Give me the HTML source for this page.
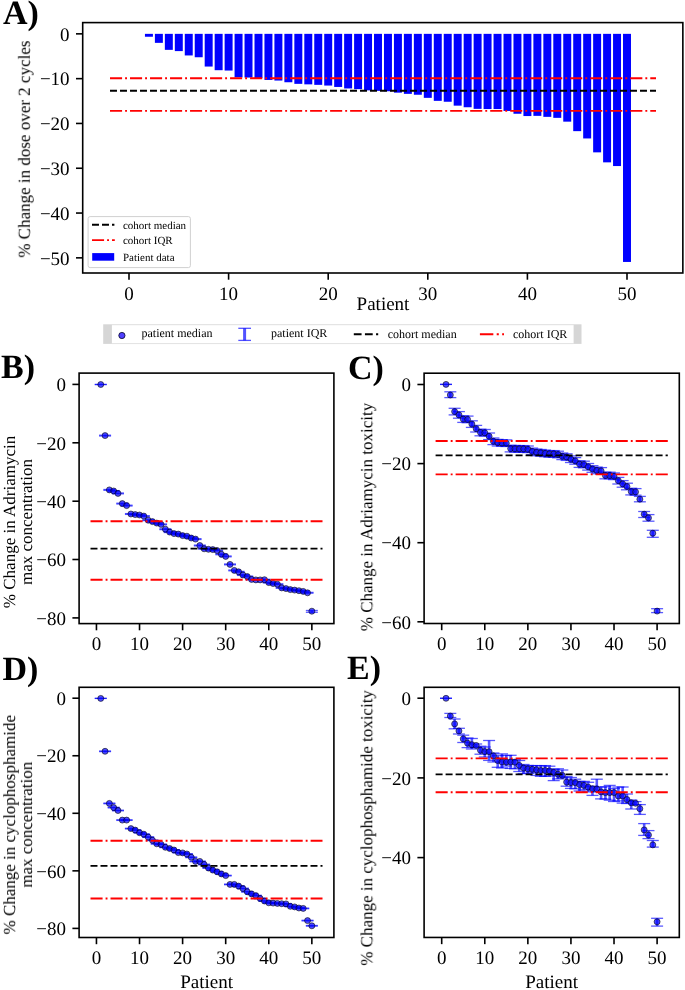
<!DOCTYPE html><html><head><meta charset="utf-8"><style>html,body{margin:0;padding:0;background:#fff;}svg{display:block}text{filter:url(#gs);text-rendering:geometricPrecision}</style></head><body>
<svg width="685" height="990" viewBox="0 0 685 990">
<defs><filter id="gs" x="-20%" y="-20%" width="140%" height="140%"><feColorMatrix type="saturate" values="0"/></filter></defs>
<rect width="685" height="990" fill="#fff"/>
<g fill="#0000ff"><rect x="144.94" y="33.85" width="7.97" height="2.90"/><rect x="154.89" y="33.85" width="7.97" height="9.00"/><rect x="164.85" y="33.85" width="7.97" height="16.00"/><rect x="174.81" y="33.85" width="7.97" height="17.25"/><rect x="184.77" y="33.85" width="7.97" height="21.60"/><rect x="194.73" y="33.85" width="7.97" height="23.40"/><rect x="204.69" y="33.85" width="7.97" height="32.70"/><rect x="214.66" y="33.85" width="7.97" height="36.35"/><rect x="224.62" y="33.85" width="7.97" height="36.70"/><rect x="234.57" y="33.85" width="7.97" height="43.50"/><rect x="244.53" y="33.85" width="7.97" height="43.70"/><rect x="254.50" y="33.85" width="7.97" height="44.40"/><rect x="264.45" y="33.85" width="7.97" height="46.10"/><rect x="274.41" y="33.85" width="7.97" height="46.70"/><rect x="284.38" y="33.85" width="7.97" height="48.40"/><rect x="294.34" y="33.85" width="7.97" height="50.00"/><rect x="304.30" y="33.85" width="7.97" height="50.50"/><rect x="314.25" y="33.85" width="7.97" height="51.00"/><rect x="324.22" y="33.85" width="7.97" height="51.70"/><rect x="334.18" y="33.85" width="7.97" height="53.10"/><rect x="344.13" y="33.85" width="7.97" height="54.60"/><rect x="354.10" y="33.85" width="7.97" height="55.30"/><rect x="364.06" y="33.85" width="7.97" height="56.50"/><rect x="374.01" y="33.85" width="7.97" height="57.00"/><rect x="383.98" y="33.85" width="7.97" height="57.40"/><rect x="393.94" y="33.85" width="7.97" height="58.80"/><rect x="403.89" y="33.85" width="7.97" height="60.00"/><rect x="413.86" y="33.85" width="7.97" height="60.90"/><rect x="423.81" y="33.85" width="7.97" height="64.00"/><rect x="433.78" y="33.85" width="7.97" height="67.00"/><rect x="443.74" y="33.85" width="7.97" height="67.90"/><rect x="453.69" y="33.85" width="7.97" height="71.80"/><rect x="463.66" y="33.85" width="7.97" height="73.40"/><rect x="473.62" y="33.85" width="7.97" height="75.00"/><rect x="483.58" y="33.85" width="7.97" height="75.20"/><rect x="493.54" y="33.85" width="7.97" height="75.20"/><rect x="503.50" y="33.85" width="7.97" height="77.10"/><rect x="513.46" y="33.85" width="7.97" height="79.90"/><rect x="523.42" y="33.85" width="7.97" height="82.20"/><rect x="533.38" y="33.85" width="7.97" height="82.00"/><rect x="543.34" y="33.85" width="7.97" height="83.00"/><rect x="553.29" y="33.85" width="7.97" height="84.00"/><rect x="563.25" y="33.85" width="7.97" height="87.80"/><rect x="573.22" y="33.85" width="7.97" height="97.30"/><rect x="583.18" y="33.85" width="7.97" height="104.60"/><rect x="593.14" y="33.85" width="7.97" height="118.50"/><rect x="603.10" y="33.85" width="7.97" height="128.50"/><rect x="613.05" y="33.85" width="7.97" height="132.20"/><rect x="623.01" y="33.85" width="7.97" height="228.10"/></g>
<line x1="110" y1="78.2" x2="656" y2="78.2" stroke="#ff0000" stroke-width="1.887" stroke-dasharray="12.08 3.02 1.89 3.02" fill="none"/>
<line x1="110" y1="110.9" x2="656" y2="110.9" stroke="#ff0000" stroke-width="1.887" stroke-dasharray="12.08 3.02 1.89 3.02" fill="none"/>
<line x1="110" y1="90.8" x2="656" y2="90.8" stroke="#000" stroke-width="1.887" stroke-dasharray="6.98 3.02" fill="none"/>
<rect x="88.1" y="216.6" width="102.3" height="51" rx="2" ry="2" fill="#fff" fill-opacity="0.8" stroke="#d0d0d0" stroke-width="1"/>
<line x1="92" y1="224.8" x2="114.4" y2="224.8" stroke="#000" stroke-width="1.887" stroke-dasharray="6.98 3.02" fill="none"/>
<line x1="92" y1="240.1" x2="114.8" y2="240.1" stroke="#ff0000" stroke-width="1.887" stroke-dasharray="12.08 3.02 1.89 3.02" fill="none"/>
<rect x="92.2" y="253.1" width="22" height="7.6" fill="#0000ff"/>
<text x="122.9" y="228.8" font-family="Liberation Serif" font-size="11">cohort median</text>
<text x="122.9" y="244.3" font-family="Liberation Serif" font-size="11">cohort IQR</text>
<text x="122.9" y="260.6" font-family="Liberation Serif" font-size="11">Patient data</text>
<rect x="82.7" y="22.6" width="600.15" height="250.4" fill="none" stroke="#000" stroke-width="1.6"/>
<line x1="76.0" y1="33.85" x2="82.7" y2="33.85" stroke="#000" stroke-width="1.6"/>
<text x="69.60000000000001" y="40.55" font-family="Liberation Serif" font-size="19" text-anchor="end">0</text>
<line x1="76.0" y1="78.65" x2="82.7" y2="78.65" stroke="#000" stroke-width="1.6"/>
<text x="69.60000000000001" y="85.35" font-family="Liberation Serif" font-size="19" text-anchor="end">−10</text>
<line x1="76.0" y1="123.45" x2="82.7" y2="123.45" stroke="#000" stroke-width="1.6"/>
<text x="69.60000000000001" y="130.15" font-family="Liberation Serif" font-size="19" text-anchor="end">−20</text>
<line x1="76.0" y1="168.25" x2="82.7" y2="168.25" stroke="#000" stroke-width="1.6"/>
<text x="69.60000000000001" y="174.95" font-family="Liberation Serif" font-size="19" text-anchor="end">−30</text>
<line x1="76.0" y1="213.05" x2="82.7" y2="213.05" stroke="#000" stroke-width="1.6"/>
<text x="69.60000000000001" y="219.75" font-family="Liberation Serif" font-size="19" text-anchor="end">−40</text>
<line x1="76.0" y1="257.85" x2="82.7" y2="257.85" stroke="#000" stroke-width="1.6"/>
<text x="69.60000000000001" y="264.55" font-family="Liberation Serif" font-size="19" text-anchor="end">−50</text>
<line x1="129.0" y1="273.0" x2="129.0" y2="279.7" stroke="#000" stroke-width="1.6"/>
<text x="129.00" y="299.80" font-family="Liberation Serif" font-size="19" text-anchor="middle">0</text>
<line x1="228.6" y1="273.0" x2="228.6" y2="279.7" stroke="#000" stroke-width="1.6"/>
<text x="228.60" y="299.80" font-family="Liberation Serif" font-size="19" text-anchor="middle">10</text>
<line x1="328.2" y1="273.0" x2="328.2" y2="279.7" stroke="#000" stroke-width="1.6"/>
<text x="328.20" y="299.80" font-family="Liberation Serif" font-size="19" text-anchor="middle">20</text>
<line x1="427.8" y1="273.0" x2="427.8" y2="279.7" stroke="#000" stroke-width="1.6"/>
<text x="427.80" y="299.80" font-family="Liberation Serif" font-size="19" text-anchor="middle">30</text>
<line x1="527.4" y1="273.0" x2="527.4" y2="279.7" stroke="#000" stroke-width="1.6"/>
<text x="527.40" y="299.80" font-family="Liberation Serif" font-size="19" text-anchor="middle">40</text>
<line x1="627.0" y1="273.0" x2="627.0" y2="279.7" stroke="#000" stroke-width="1.6"/>
<text x="627.00" y="299.80" font-family="Liberation Serif" font-size="19" text-anchor="middle">50</text>
<text x="383" y="309.9" font-family="Liberation Serif" font-size="19" text-anchor="middle">Patient</text>
<g transform="translate(29.8,149.2) rotate(-90)"><text x="0" y="0.0" font-family="Liberation Serif" font-size="17" text-anchor="middle">% Change in dose over 2 cycles</text></g>
<text x="3" y="24.1" font-family="Liberation Serif" font-size="34" font-weight="bold">A)</text>
<rect x="103.2" y="324.3" width="478.3" height="19.6" fill="#d6d6d6"/>
<rect x="111.9" y="325.1" width="461.7" height="18.2" fill="#fff"/>
<line x1="111.9" y1="324.6" x2="573.6" y2="324.6" stroke="#e4e4e4" stroke-width="1"/>
<line x1="111.9" y1="343.6" x2="573.6" y2="343.6" stroke="#e4e4e4" stroke-width="1"/>
<circle cx="121.9" cy="335.5" r="3.1" fill="#5040ff" stroke="#101040" stroke-width="0.9"/>
<text x="141.5" y="336.8" font-family="Liberation Serif" font-size="12">patient median</text>
<g stroke="#0000ff" stroke-opacity="0.68"><line x1="244.6" y1="328.3" x2="244.6" y2="340.4" stroke-width="3"/><line x1="238.3" y1="328.3" x2="251" y2="328.3" stroke-width="1.3"/><line x1="238.3" y1="340.4" x2="251" y2="340.4" stroke-width="1.3"/></g>
<text x="271" y="336.8" font-family="Liberation Serif" font-size="12">patient IQR</text>
<line x1="353.8" y1="334.2" x2="378.2" y2="334.2" stroke="#000" stroke-width="2.1" stroke-dasharray="7.77 3.36"/>
<text x="387.7" y="338.0" font-family="Liberation Serif" font-size="12">cohort median</text>
<line x1="479.9" y1="334.3" x2="504" y2="334.3" stroke="#ff0000" stroke-width="2.1" stroke-dasharray="13.44 3.36 2.1 3.36"/>
<text x="513" y="338.0" font-family="Liberation Serif" font-size="12">cohort IQR</text>
<g stroke="#0000ff" stroke-opacity="0.65" fill="none"><line x1="94.76" y1="384.50" x2="106.76" y2="384.50" stroke-width="1.3"/><line x1="94.76" y1="384.50" x2="106.76" y2="384.50" stroke-width="1.3"/><line x1="105.07" y1="435.20" x2="105.07" y2="436.00" stroke-width="2.6"/><line x1="99.07" y1="435.20" x2="111.07" y2="435.20" stroke-width="1.3"/><line x1="99.07" y1="436.00" x2="111.07" y2="436.00" stroke-width="1.3"/><line x1="109.37" y1="489.50" x2="109.37" y2="490.30" stroke-width="2.6"/><line x1="103.37" y1="489.50" x2="115.37" y2="489.50" stroke-width="1.3"/><line x1="103.37" y1="490.30" x2="115.37" y2="490.30" stroke-width="1.3"/><line x1="113.68" y1="490.60" x2="113.68" y2="491.40" stroke-width="2.6"/><line x1="107.68" y1="490.60" x2="119.68" y2="490.60" stroke-width="1.3"/><line x1="107.68" y1="491.40" x2="119.68" y2="491.40" stroke-width="1.3"/><line x1="117.99" y1="493.00" x2="117.99" y2="493.80" stroke-width="2.6"/><line x1="111.99" y1="493.00" x2="123.99" y2="493.00" stroke-width="1.3"/><line x1="111.99" y1="493.80" x2="123.99" y2="493.80" stroke-width="1.3"/><line x1="122.30" y1="503.20" x2="122.30" y2="504.00" stroke-width="2.6"/><line x1="116.30" y1="503.20" x2="128.30" y2="503.20" stroke-width="1.3"/><line x1="116.30" y1="504.00" x2="128.30" y2="504.00" stroke-width="1.3"/><line x1="126.61" y1="505.20" x2="126.61" y2="506.00" stroke-width="2.6"/><line x1="120.61" y1="505.20" x2="132.61" y2="505.20" stroke-width="1.3"/><line x1="120.61" y1="506.00" x2="132.61" y2="506.00" stroke-width="1.3"/><line x1="130.91" y1="513.60" x2="130.91" y2="514.40" stroke-width="2.6"/><line x1="124.91" y1="513.60" x2="136.91" y2="513.60" stroke-width="1.3"/><line x1="124.91" y1="514.40" x2="136.91" y2="514.40" stroke-width="1.3"/><line x1="135.22" y1="514.20" x2="135.22" y2="515.00" stroke-width="2.6"/><line x1="129.22" y1="514.20" x2="141.22" y2="514.20" stroke-width="1.3"/><line x1="129.22" y1="515.00" x2="141.22" y2="515.00" stroke-width="1.3"/><line x1="139.53" y1="514.60" x2="139.53" y2="515.40" stroke-width="2.6"/><line x1="133.53" y1="514.60" x2="145.53" y2="514.60" stroke-width="1.3"/><line x1="133.53" y1="515.40" x2="145.53" y2="515.40" stroke-width="1.3"/><line x1="143.84" y1="515.70" x2="143.84" y2="516.50" stroke-width="2.6"/><line x1="137.84" y1="515.70" x2="149.84" y2="515.70" stroke-width="1.3"/><line x1="137.84" y1="516.50" x2="149.84" y2="516.50" stroke-width="1.3"/><line x1="148.15" y1="519.80" x2="148.15" y2="520.60" stroke-width="2.6"/><line x1="142.15" y1="519.80" x2="154.15" y2="519.80" stroke-width="1.3"/><line x1="142.15" y1="520.60" x2="154.15" y2="520.60" stroke-width="1.3"/><line x1="152.45" y1="521.20" x2="152.45" y2="522.00" stroke-width="2.6"/><line x1="146.45" y1="521.20" x2="158.45" y2="521.20" stroke-width="1.3"/><line x1="146.45" y1="522.00" x2="158.45" y2="522.00" stroke-width="1.3"/><line x1="156.76" y1="522.70" x2="156.76" y2="523.50" stroke-width="2.6"/><line x1="150.76" y1="522.70" x2="162.76" y2="522.70" stroke-width="1.3"/><line x1="150.76" y1="523.50" x2="162.76" y2="523.50" stroke-width="1.3"/><line x1="161.07" y1="524.00" x2="161.07" y2="524.80" stroke-width="2.6"/><line x1="155.07" y1="524.00" x2="167.07" y2="524.00" stroke-width="1.3"/><line x1="155.07" y1="524.80" x2="167.07" y2="524.80" stroke-width="1.3"/><line x1="165.38" y1="528.80" x2="165.38" y2="529.60" stroke-width="2.6"/><line x1="159.38" y1="528.80" x2="171.38" y2="528.80" stroke-width="1.3"/><line x1="159.38" y1="529.60" x2="171.38" y2="529.60" stroke-width="1.3"/><line x1="169.69" y1="531.70" x2="169.69" y2="532.50" stroke-width="2.6"/><line x1="163.69" y1="531.70" x2="175.69" y2="531.70" stroke-width="1.3"/><line x1="163.69" y1="532.50" x2="175.69" y2="532.50" stroke-width="1.3"/><line x1="173.99" y1="533.20" x2="173.99" y2="534.00" stroke-width="2.6"/><line x1="167.99" y1="533.20" x2="179.99" y2="533.20" stroke-width="1.3"/><line x1="167.99" y1="534.00" x2="179.99" y2="534.00" stroke-width="1.3"/><line x1="178.30" y1="533.70" x2="178.30" y2="534.50" stroke-width="2.6"/><line x1="172.30" y1="533.70" x2="184.30" y2="533.70" stroke-width="1.3"/><line x1="172.30" y1="534.50" x2="184.30" y2="534.50" stroke-width="1.3"/><line x1="182.61" y1="535.20" x2="182.61" y2="536.00" stroke-width="2.6"/><line x1="176.61" y1="535.20" x2="188.61" y2="535.20" stroke-width="1.3"/><line x1="176.61" y1="536.00" x2="188.61" y2="536.00" stroke-width="1.3"/><line x1="186.92" y1="535.80" x2="186.92" y2="536.60" stroke-width="2.6"/><line x1="180.92" y1="535.80" x2="192.92" y2="535.80" stroke-width="1.3"/><line x1="180.92" y1="536.60" x2="192.92" y2="536.60" stroke-width="1.3"/><line x1="191.23" y1="537.60" x2="191.23" y2="538.40" stroke-width="2.6"/><line x1="185.23" y1="537.60" x2="197.23" y2="537.60" stroke-width="1.3"/><line x1="185.23" y1="538.40" x2="197.23" y2="538.40" stroke-width="1.3"/><line x1="195.53" y1="538.70" x2="195.53" y2="539.50" stroke-width="2.6"/><line x1="189.53" y1="538.70" x2="201.53" y2="538.70" stroke-width="1.3"/><line x1="189.53" y1="539.50" x2="201.53" y2="539.50" stroke-width="1.3"/><line x1="199.84" y1="545.10" x2="199.84" y2="545.90" stroke-width="2.6"/><line x1="193.84" y1="545.10" x2="205.84" y2="545.10" stroke-width="1.3"/><line x1="193.84" y1="545.90" x2="205.84" y2="545.90" stroke-width="1.3"/><line x1="204.15" y1="548.40" x2="204.15" y2="549.20" stroke-width="2.6"/><line x1="198.15" y1="548.40" x2="210.15" y2="548.40" stroke-width="1.3"/><line x1="198.15" y1="549.20" x2="210.15" y2="549.20" stroke-width="1.3"/><line x1="208.46" y1="548.90" x2="208.46" y2="549.70" stroke-width="2.6"/><line x1="202.46" y1="548.90" x2="214.46" y2="548.90" stroke-width="1.3"/><line x1="202.46" y1="549.70" x2="214.46" y2="549.70" stroke-width="1.3"/><line x1="212.77" y1="549.20" x2="212.77" y2="550.00" stroke-width="2.6"/><line x1="206.77" y1="549.20" x2="218.77" y2="549.20" stroke-width="1.3"/><line x1="206.77" y1="550.00" x2="218.77" y2="550.00" stroke-width="1.3"/><line x1="217.07" y1="550.10" x2="217.07" y2="550.90" stroke-width="2.6"/><line x1="211.07" y1="550.10" x2="223.07" y2="550.10" stroke-width="1.3"/><line x1="211.07" y1="550.90" x2="223.07" y2="550.90" stroke-width="1.3"/><line x1="221.38" y1="553.90" x2="221.38" y2="554.70" stroke-width="2.6"/><line x1="215.38" y1="553.90" x2="227.38" y2="553.90" stroke-width="1.3"/><line x1="215.38" y1="554.70" x2="227.38" y2="554.70" stroke-width="1.3"/><line x1="225.69" y1="556.00" x2="225.69" y2="556.80" stroke-width="2.6"/><line x1="219.69" y1="556.00" x2="231.69" y2="556.00" stroke-width="1.3"/><line x1="219.69" y1="556.80" x2="231.69" y2="556.80" stroke-width="1.3"/><line x1="230.00" y1="564.00" x2="230.00" y2="564.80" stroke-width="2.6"/><line x1="224.00" y1="564.00" x2="236.00" y2="564.00" stroke-width="1.3"/><line x1="224.00" y1="564.80" x2="236.00" y2="564.80" stroke-width="1.3"/><line x1="234.31" y1="570.00" x2="234.31" y2="570.80" stroke-width="2.6"/><line x1="228.31" y1="570.00" x2="240.31" y2="570.00" stroke-width="1.3"/><line x1="228.31" y1="570.80" x2="240.31" y2="570.80" stroke-width="1.3"/><line x1="238.61" y1="571.40" x2="238.61" y2="572.20" stroke-width="2.6"/><line x1="232.61" y1="571.40" x2="244.61" y2="571.40" stroke-width="1.3"/><line x1="232.61" y1="572.20" x2="244.61" y2="572.20" stroke-width="1.3"/><line x1="242.92" y1="574.60" x2="242.92" y2="575.40" stroke-width="2.6"/><line x1="236.92" y1="574.60" x2="248.92" y2="574.60" stroke-width="1.3"/><line x1="236.92" y1="575.40" x2="248.92" y2="575.40" stroke-width="1.3"/><line x1="247.23" y1="576.10" x2="247.23" y2="576.90" stroke-width="2.6"/><line x1="241.23" y1="576.10" x2="253.23" y2="576.10" stroke-width="1.3"/><line x1="241.23" y1="576.90" x2="253.23" y2="576.90" stroke-width="1.3"/><line x1="251.54" y1="579.00" x2="251.54" y2="579.80" stroke-width="2.6"/><line x1="245.54" y1="579.00" x2="257.54" y2="579.00" stroke-width="1.3"/><line x1="245.54" y1="579.80" x2="257.54" y2="579.80" stroke-width="1.3"/><line x1="255.85" y1="579.50" x2="255.85" y2="580.30" stroke-width="2.6"/><line x1="249.85" y1="579.50" x2="261.85" y2="579.50" stroke-width="1.3"/><line x1="249.85" y1="580.30" x2="261.85" y2="580.30" stroke-width="1.3"/><line x1="260.15" y1="579.50" x2="260.15" y2="580.30" stroke-width="2.6"/><line x1="254.15" y1="579.50" x2="266.15" y2="579.50" stroke-width="1.3"/><line x1="254.15" y1="580.30" x2="266.15" y2="580.30" stroke-width="1.3"/><line x1="264.46" y1="579.30" x2="264.46" y2="580.10" stroke-width="2.6"/><line x1="258.46" y1="579.30" x2="270.46" y2="579.30" stroke-width="1.3"/><line x1="258.46" y1="580.10" x2="270.46" y2="580.10" stroke-width="1.3"/><line x1="268.77" y1="582.20" x2="268.77" y2="583.00" stroke-width="2.6"/><line x1="262.77" y1="582.20" x2="274.77" y2="582.20" stroke-width="1.3"/><line x1="262.77" y1="583.00" x2="274.77" y2="583.00" stroke-width="1.3"/><line x1="273.08" y1="583.10" x2="273.08" y2="583.90" stroke-width="2.6"/><line x1="267.08" y1="583.10" x2="279.08" y2="583.10" stroke-width="1.3"/><line x1="267.08" y1="583.90" x2="279.08" y2="583.90" stroke-width="1.3"/><line x1="277.39" y1="583.80" x2="277.39" y2="584.60" stroke-width="2.6"/><line x1="271.39" y1="583.80" x2="283.39" y2="583.80" stroke-width="1.3"/><line x1="271.39" y1="584.60" x2="283.39" y2="584.60" stroke-width="1.3"/><line x1="281.69" y1="587.50" x2="281.69" y2="588.30" stroke-width="2.6"/><line x1="275.69" y1="587.50" x2="287.69" y2="587.50" stroke-width="1.3"/><line x1="275.69" y1="588.30" x2="287.69" y2="588.30" stroke-width="1.3"/><line x1="286.00" y1="588.20" x2="286.00" y2="589.00" stroke-width="2.6"/><line x1="280.00" y1="588.20" x2="292.00" y2="588.20" stroke-width="1.3"/><line x1="280.00" y1="589.00" x2="292.00" y2="589.00" stroke-width="1.3"/><line x1="290.31" y1="589.20" x2="290.31" y2="590.00" stroke-width="2.6"/><line x1="284.31" y1="589.20" x2="296.31" y2="589.20" stroke-width="1.3"/><line x1="284.31" y1="590.00" x2="296.31" y2="590.00" stroke-width="1.3"/><line x1="294.62" y1="589.70" x2="294.62" y2="590.50" stroke-width="2.6"/><line x1="288.62" y1="589.70" x2="300.62" y2="589.70" stroke-width="1.3"/><line x1="288.62" y1="590.50" x2="300.62" y2="590.50" stroke-width="1.3"/><line x1="298.93" y1="590.30" x2="298.93" y2="591.10" stroke-width="2.6"/><line x1="292.93" y1="590.30" x2="304.93" y2="590.30" stroke-width="1.3"/><line x1="292.93" y1="591.10" x2="304.93" y2="591.10" stroke-width="1.3"/><line x1="303.23" y1="591.00" x2="303.23" y2="591.80" stroke-width="2.6"/><line x1="297.23" y1="591.00" x2="309.23" y2="591.00" stroke-width="1.3"/><line x1="297.23" y1="591.80" x2="309.23" y2="591.80" stroke-width="1.3"/><line x1="307.54" y1="592.40" x2="307.54" y2="593.20" stroke-width="2.6"/><line x1="301.54" y1="592.40" x2="313.54" y2="592.40" stroke-width="1.3"/><line x1="301.54" y1="593.20" x2="313.54" y2="593.20" stroke-width="1.3"/><line x1="311.85" y1="610.50" x2="311.85" y2="612.30" stroke-width="2.6"/><line x1="305.85" y1="610.50" x2="317.85" y2="610.50" stroke-width="1.3"/><line x1="305.85" y1="612.30" x2="317.85" y2="612.30" stroke-width="1.3"/></g>
<g fill="#0000ff" fill-opacity="0.7" stroke="#000" stroke-opacity="0.7" stroke-width="0.8"><circle cx="100.76" cy="384.50" r="3.0"/><circle cx="105.07" cy="435.60" r="3.0"/><circle cx="109.37" cy="489.90" r="3.0"/><circle cx="113.68" cy="491.00" r="3.0"/><circle cx="117.99" cy="493.40" r="3.0"/><circle cx="122.30" cy="503.60" r="3.0"/><circle cx="126.61" cy="505.60" r="3.0"/><circle cx="130.91" cy="514.00" r="3.0"/><circle cx="135.22" cy="514.60" r="3.0"/><circle cx="139.53" cy="515.00" r="3.0"/><circle cx="143.84" cy="516.10" r="3.0"/><circle cx="148.15" cy="520.20" r="3.0"/><circle cx="152.45" cy="521.60" r="3.0"/><circle cx="156.76" cy="523.10" r="3.0"/><circle cx="161.07" cy="524.40" r="3.0"/><circle cx="165.38" cy="529.20" r="3.0"/><circle cx="169.69" cy="532.10" r="3.0"/><circle cx="173.99" cy="533.60" r="3.0"/><circle cx="178.30" cy="534.10" r="3.0"/><circle cx="182.61" cy="535.60" r="3.0"/><circle cx="186.92" cy="536.20" r="3.0"/><circle cx="191.23" cy="538.00" r="3.0"/><circle cx="195.53" cy="539.10" r="3.0"/><circle cx="199.84" cy="545.50" r="3.0"/><circle cx="204.15" cy="548.80" r="3.0"/><circle cx="208.46" cy="549.30" r="3.0"/><circle cx="212.77" cy="549.60" r="3.0"/><circle cx="217.07" cy="550.50" r="3.0"/><circle cx="221.38" cy="554.30" r="3.0"/><circle cx="225.69" cy="556.40" r="3.0"/><circle cx="230.00" cy="564.40" r="3.0"/><circle cx="234.31" cy="570.40" r="3.0"/><circle cx="238.61" cy="571.80" r="3.0"/><circle cx="242.92" cy="575.00" r="3.0"/><circle cx="247.23" cy="576.50" r="3.0"/><circle cx="251.54" cy="579.40" r="3.0"/><circle cx="255.85" cy="579.90" r="3.0"/><circle cx="260.15" cy="579.90" r="3.0"/><circle cx="264.46" cy="579.70" r="3.0"/><circle cx="268.77" cy="582.60" r="3.0"/><circle cx="273.08" cy="583.50" r="3.0"/><circle cx="277.39" cy="584.20" r="3.0"/><circle cx="281.69" cy="587.90" r="3.0"/><circle cx="286.00" cy="588.60" r="3.0"/><circle cx="290.31" cy="589.60" r="3.0"/><circle cx="294.62" cy="590.10" r="3.0"/><circle cx="298.93" cy="590.70" r="3.0"/><circle cx="303.23" cy="591.40" r="3.0"/><circle cx="307.54" cy="592.80" r="3.0"/><circle cx="311.85" cy="611.20" r="3.0"/></g>
<line x1="90.5" y1="521.3" x2="322.5" y2="521.3" stroke="#ff0000" stroke-width="1.887" stroke-dasharray="12.08 3.02 1.89 3.02" fill="none"/>
<line x1="90.5" y1="579.7" x2="322.5" y2="579.7" stroke="#ff0000" stroke-width="1.887" stroke-dasharray="12.08 3.02 1.89 3.02" fill="none"/>
<line x1="90.5" y1="548.6" x2="322.5" y2="548.6" stroke="#000" stroke-width="1.887" stroke-dasharray="6.98 3.02" fill="none"/>
<rect x="79.1" y="373.1" width="254.79999999999998" height="250.5" fill="none" stroke="#000" stroke-width="1.6"/>
<line x1="72.39999999999999" y1="384.4" x2="79.1" y2="384.4" stroke="#000" stroke-width="1.6"/>
<text x="66.0" y="391.10" font-family="Liberation Serif" font-size="19" text-anchor="end">0</text>
<line x1="72.39999999999999" y1="442.8" x2="79.1" y2="442.8" stroke="#000" stroke-width="1.6"/>
<text x="66.0" y="449.50" font-family="Liberation Serif" font-size="19" text-anchor="end">−20</text>
<line x1="72.39999999999999" y1="501.2" x2="79.1" y2="501.2" stroke="#000" stroke-width="1.6"/>
<text x="66.0" y="507.90" font-family="Liberation Serif" font-size="19" text-anchor="end">−40</text>
<line x1="72.39999999999999" y1="559.5" x2="79.1" y2="559.5" stroke="#000" stroke-width="1.6"/>
<text x="66.0" y="566.20" font-family="Liberation Serif" font-size="19" text-anchor="end">−60</text>
<line x1="72.39999999999999" y1="617.9" x2="79.1" y2="617.9" stroke="#000" stroke-width="1.6"/>
<text x="66.0" y="624.60" font-family="Liberation Serif" font-size="19" text-anchor="end">−80</text>
<line x1="96.45" y1="623.6" x2="96.45" y2="630.3000000000001" stroke="#000" stroke-width="1.6"/>
<text x="96.45" y="650.40" font-family="Liberation Serif" font-size="19" text-anchor="middle">0</text>
<line x1="139.53" y1="623.6" x2="139.53" y2="630.3000000000001" stroke="#000" stroke-width="1.6"/>
<text x="139.53" y="650.40" font-family="Liberation Serif" font-size="19" text-anchor="middle">10</text>
<line x1="182.61" y1="623.6" x2="182.61" y2="630.3000000000001" stroke="#000" stroke-width="1.6"/>
<text x="182.61" y="650.40" font-family="Liberation Serif" font-size="19" text-anchor="middle">20</text>
<line x1="225.69" y1="623.6" x2="225.69" y2="630.3000000000001" stroke="#000" stroke-width="1.6"/>
<text x="225.69" y="650.40" font-family="Liberation Serif" font-size="19" text-anchor="middle">30</text>
<line x1="268.77" y1="623.6" x2="268.77" y2="630.3000000000001" stroke="#000" stroke-width="1.6"/>
<text x="268.77" y="650.40" font-family="Liberation Serif" font-size="19" text-anchor="middle">40</text>
<line x1="311.85" y1="623.6" x2="311.85" y2="630.3000000000001" stroke="#000" stroke-width="1.6"/>
<text x="311.85" y="650.40" font-family="Liberation Serif" font-size="19" text-anchor="middle">50</text>
<g transform="translate(15.0,522.0) rotate(-90)"><text x="0" y="0.0" font-family="Liberation Serif" font-size="17" text-anchor="middle">% Change in Adriamycin</text><text x="0" y="17.3" font-family="Liberation Serif" font-size="17" text-anchor="middle">max concentration</text></g>
<text x="1" y="377.7" font-family="Liberation Serif" font-size="34" font-weight="bold">B)</text>
<g stroke="#0000ff" stroke-opacity="0.65" fill="none"><line x1="440.01" y1="384.40" x2="452.01" y2="384.40" stroke-width="1.3"/><line x1="440.01" y1="384.40" x2="452.01" y2="384.40" stroke-width="1.3"/><line x1="450.32" y1="391.80" x2="450.32" y2="397.60" stroke-width="2.6"/><line x1="444.32" y1="391.80" x2="456.32" y2="391.80" stroke-width="1.3"/><line x1="444.32" y1="397.60" x2="456.32" y2="397.60" stroke-width="1.3"/><line x1="454.62" y1="408.30" x2="454.62" y2="414.90" stroke-width="2.6"/><line x1="448.62" y1="408.30" x2="460.62" y2="408.30" stroke-width="1.3"/><line x1="448.62" y1="414.90" x2="460.62" y2="414.90" stroke-width="1.3"/><line x1="458.93" y1="411.60" x2="458.93" y2="418.20" stroke-width="2.6"/><line x1="452.93" y1="411.60" x2="464.93" y2="411.60" stroke-width="1.3"/><line x1="452.93" y1="418.20" x2="464.93" y2="418.20" stroke-width="1.3"/><line x1="463.24" y1="415.80" x2="463.24" y2="422.40" stroke-width="2.6"/><line x1="457.24" y1="415.80" x2="469.24" y2="415.80" stroke-width="1.3"/><line x1="457.24" y1="422.40" x2="469.24" y2="422.40" stroke-width="1.3"/><line x1="467.55" y1="416.10" x2="467.55" y2="422.70" stroke-width="2.6"/><line x1="461.55" y1="416.10" x2="473.55" y2="416.10" stroke-width="1.3"/><line x1="461.55" y1="422.70" x2="473.55" y2="422.70" stroke-width="1.3"/><line x1="471.86" y1="420.80" x2="471.86" y2="427.40" stroke-width="2.6"/><line x1="465.86" y1="420.80" x2="477.86" y2="420.80" stroke-width="1.3"/><line x1="465.86" y1="427.40" x2="477.86" y2="427.40" stroke-width="1.3"/><line x1="476.16" y1="425.40" x2="476.16" y2="432.00" stroke-width="2.6"/><line x1="470.16" y1="425.40" x2="482.16" y2="425.40" stroke-width="1.3"/><line x1="470.16" y1="432.00" x2="482.16" y2="432.00" stroke-width="1.3"/><line x1="480.47" y1="429.20" x2="480.47" y2="435.80" stroke-width="2.6"/><line x1="474.47" y1="429.20" x2="486.47" y2="429.20" stroke-width="1.3"/><line x1="474.47" y1="435.80" x2="486.47" y2="435.80" stroke-width="1.3"/><line x1="484.78" y1="429.50" x2="484.78" y2="436.10" stroke-width="2.6"/><line x1="478.78" y1="429.50" x2="490.78" y2="429.50" stroke-width="1.3"/><line x1="478.78" y1="436.10" x2="490.78" y2="436.10" stroke-width="1.3"/><line x1="489.09" y1="433.00" x2="489.09" y2="439.60" stroke-width="2.6"/><line x1="483.09" y1="433.00" x2="495.09" y2="433.00" stroke-width="1.3"/><line x1="483.09" y1="439.60" x2="495.09" y2="439.60" stroke-width="1.3"/><line x1="493.40" y1="438.00" x2="493.40" y2="444.60" stroke-width="2.6"/><line x1="487.40" y1="438.00" x2="499.40" y2="438.00" stroke-width="1.3"/><line x1="487.40" y1="444.60" x2="499.40" y2="444.60" stroke-width="1.3"/><line x1="497.70" y1="439.40" x2="497.70" y2="446.00" stroke-width="2.6"/><line x1="491.70" y1="439.40" x2="503.70" y2="439.40" stroke-width="1.3"/><line x1="491.70" y1="446.00" x2="503.70" y2="446.00" stroke-width="1.3"/><line x1="502.01" y1="439.70" x2="502.01" y2="446.30" stroke-width="2.6"/><line x1="496.01" y1="439.70" x2="508.01" y2="439.70" stroke-width="1.3"/><line x1="496.01" y1="446.30" x2="508.01" y2="446.30" stroke-width="1.3"/><line x1="506.32" y1="439.90" x2="506.32" y2="446.50" stroke-width="2.6"/><line x1="500.32" y1="439.90" x2="512.32" y2="439.90" stroke-width="1.3"/><line x1="500.32" y1="446.50" x2="512.32" y2="446.50" stroke-width="1.3"/><line x1="510.63" y1="445.30" x2="510.63" y2="451.90" stroke-width="2.6"/><line x1="504.63" y1="445.30" x2="516.63" y2="445.30" stroke-width="1.3"/><line x1="504.63" y1="451.90" x2="516.63" y2="451.90" stroke-width="1.3"/><line x1="514.94" y1="445.50" x2="514.94" y2="452.10" stroke-width="2.6"/><line x1="508.94" y1="445.50" x2="520.94" y2="445.50" stroke-width="1.3"/><line x1="508.94" y1="452.10" x2="520.94" y2="452.10" stroke-width="1.3"/><line x1="519.24" y1="445.60" x2="519.24" y2="452.20" stroke-width="2.6"/><line x1="513.24" y1="445.60" x2="525.24" y2="445.60" stroke-width="1.3"/><line x1="513.24" y1="452.20" x2="525.24" y2="452.20" stroke-width="1.3"/><line x1="523.55" y1="445.60" x2="523.55" y2="452.20" stroke-width="2.6"/><line x1="517.55" y1="445.60" x2="529.55" y2="445.60" stroke-width="1.3"/><line x1="517.55" y1="452.20" x2="529.55" y2="452.20" stroke-width="1.3"/><line x1="527.86" y1="446.00" x2="527.86" y2="452.60" stroke-width="2.6"/><line x1="521.86" y1="446.00" x2="533.86" y2="446.00" stroke-width="1.3"/><line x1="521.86" y1="452.60" x2="533.86" y2="452.60" stroke-width="1.3"/><line x1="532.17" y1="448.10" x2="532.17" y2="454.70" stroke-width="2.6"/><line x1="526.17" y1="448.10" x2="538.17" y2="448.10" stroke-width="1.3"/><line x1="526.17" y1="454.70" x2="538.17" y2="454.70" stroke-width="1.3"/><line x1="536.48" y1="449.10" x2="536.48" y2="455.70" stroke-width="2.6"/><line x1="530.48" y1="449.10" x2="542.48" y2="449.10" stroke-width="1.3"/><line x1="530.48" y1="455.70" x2="542.48" y2="455.70" stroke-width="1.3"/><line x1="540.78" y1="449.50" x2="540.78" y2="456.10" stroke-width="2.6"/><line x1="534.78" y1="449.50" x2="546.78" y2="449.50" stroke-width="1.3"/><line x1="534.78" y1="456.10" x2="546.78" y2="456.10" stroke-width="1.3"/><line x1="545.09" y1="450.10" x2="545.09" y2="456.70" stroke-width="2.6"/><line x1="539.09" y1="450.10" x2="551.09" y2="450.10" stroke-width="1.3"/><line x1="539.09" y1="456.70" x2="551.09" y2="456.70" stroke-width="1.3"/><line x1="549.40" y1="450.60" x2="549.40" y2="457.20" stroke-width="2.6"/><line x1="543.40" y1="450.60" x2="555.40" y2="450.60" stroke-width="1.3"/><line x1="543.40" y1="457.20" x2="555.40" y2="457.20" stroke-width="1.3"/><line x1="553.71" y1="450.60" x2="553.71" y2="457.20" stroke-width="2.6"/><line x1="547.71" y1="450.60" x2="559.71" y2="450.60" stroke-width="1.3"/><line x1="547.71" y1="457.20" x2="559.71" y2="457.20" stroke-width="1.3"/><line x1="558.02" y1="451.20" x2="558.02" y2="457.80" stroke-width="2.6"/><line x1="552.02" y1="451.20" x2="564.02" y2="451.20" stroke-width="1.3"/><line x1="552.02" y1="457.80" x2="564.02" y2="457.80" stroke-width="1.3"/><line x1="562.32" y1="453.00" x2="562.32" y2="459.60" stroke-width="2.6"/><line x1="556.32" y1="453.00" x2="568.32" y2="453.00" stroke-width="1.3"/><line x1="556.32" y1="459.60" x2="568.32" y2="459.60" stroke-width="1.3"/><line x1="566.63" y1="453.80" x2="566.63" y2="460.40" stroke-width="2.6"/><line x1="560.63" y1="453.80" x2="572.63" y2="453.80" stroke-width="1.3"/><line x1="560.63" y1="460.40" x2="572.63" y2="460.40" stroke-width="1.3"/><line x1="570.94" y1="455.90" x2="570.94" y2="462.50" stroke-width="2.6"/><line x1="564.94" y1="455.90" x2="576.94" y2="455.90" stroke-width="1.3"/><line x1="564.94" y1="462.50" x2="576.94" y2="462.50" stroke-width="1.3"/><line x1="575.25" y1="457.60" x2="575.25" y2="464.20" stroke-width="2.6"/><line x1="569.25" y1="457.60" x2="581.25" y2="457.60" stroke-width="1.3"/><line x1="569.25" y1="464.20" x2="581.25" y2="464.20" stroke-width="1.3"/><line x1="579.56" y1="460.80" x2="579.56" y2="467.40" stroke-width="2.6"/><line x1="573.56" y1="460.80" x2="585.56" y2="460.80" stroke-width="1.3"/><line x1="573.56" y1="467.40" x2="585.56" y2="467.40" stroke-width="1.3"/><line x1="583.86" y1="461.20" x2="583.86" y2="467.80" stroke-width="2.6"/><line x1="577.86" y1="461.20" x2="589.86" y2="461.20" stroke-width="1.3"/><line x1="577.86" y1="467.80" x2="589.86" y2="467.80" stroke-width="1.3"/><line x1="588.17" y1="463.50" x2="588.17" y2="470.10" stroke-width="2.6"/><line x1="582.17" y1="463.50" x2="594.17" y2="463.50" stroke-width="1.3"/><line x1="582.17" y1="470.10" x2="594.17" y2="470.10" stroke-width="1.3"/><line x1="592.48" y1="465.70" x2="592.48" y2="472.30" stroke-width="2.6"/><line x1="586.48" y1="465.70" x2="598.48" y2="465.70" stroke-width="1.3"/><line x1="586.48" y1="472.30" x2="598.48" y2="472.30" stroke-width="1.3"/><line x1="596.79" y1="467.10" x2="596.79" y2="473.70" stroke-width="2.6"/><line x1="590.79" y1="467.10" x2="602.79" y2="467.10" stroke-width="1.3"/><line x1="590.79" y1="473.70" x2="602.79" y2="473.70" stroke-width="1.3"/><line x1="601.10" y1="467.60" x2="601.10" y2="474.20" stroke-width="2.6"/><line x1="595.10" y1="467.60" x2="607.10" y2="467.60" stroke-width="1.3"/><line x1="595.10" y1="474.20" x2="607.10" y2="474.20" stroke-width="1.3"/><line x1="605.40" y1="472.20" x2="605.40" y2="478.80" stroke-width="2.6"/><line x1="599.40" y1="472.20" x2="611.40" y2="472.20" stroke-width="1.3"/><line x1="599.40" y1="478.80" x2="611.40" y2="478.80" stroke-width="1.3"/><line x1="609.71" y1="472.20" x2="609.71" y2="478.80" stroke-width="2.6"/><line x1="603.71" y1="472.20" x2="615.71" y2="472.20" stroke-width="1.3"/><line x1="603.71" y1="478.80" x2="615.71" y2="478.80" stroke-width="1.3"/><line x1="614.02" y1="473.00" x2="614.02" y2="479.60" stroke-width="2.6"/><line x1="608.02" y1="473.00" x2="620.02" y2="473.00" stroke-width="1.3"/><line x1="608.02" y1="479.60" x2="620.02" y2="479.60" stroke-width="1.3"/><line x1="618.33" y1="477.40" x2="618.33" y2="484.00" stroke-width="2.6"/><line x1="612.33" y1="477.40" x2="624.33" y2="477.40" stroke-width="1.3"/><line x1="612.33" y1="484.00" x2="624.33" y2="484.00" stroke-width="1.3"/><line x1="622.64" y1="480.60" x2="622.64" y2="487.20" stroke-width="2.6"/><line x1="616.64" y1="480.60" x2="628.64" y2="480.60" stroke-width="1.3"/><line x1="616.64" y1="487.20" x2="628.64" y2="487.20" stroke-width="1.3"/><line x1="626.94" y1="483.20" x2="626.94" y2="489.80" stroke-width="2.6"/><line x1="620.94" y1="483.20" x2="632.94" y2="483.20" stroke-width="1.3"/><line x1="620.94" y1="489.80" x2="632.94" y2="489.80" stroke-width="1.3"/><line x1="631.25" y1="488.30" x2="631.25" y2="494.90" stroke-width="2.6"/><line x1="625.25" y1="488.30" x2="637.25" y2="488.30" stroke-width="1.3"/><line x1="625.25" y1="494.90" x2="637.25" y2="494.90" stroke-width="1.3"/><line x1="635.56" y1="488.60" x2="635.56" y2="495.20" stroke-width="2.6"/><line x1="629.56" y1="488.60" x2="641.56" y2="488.60" stroke-width="1.3"/><line x1="629.56" y1="495.20" x2="641.56" y2="495.20" stroke-width="1.3"/><line x1="639.87" y1="496.40" x2="639.87" y2="501.80" stroke-width="2.6"/><line x1="633.87" y1="496.40" x2="645.87" y2="496.40" stroke-width="1.3"/><line x1="633.87" y1="501.80" x2="645.87" y2="501.80" stroke-width="1.3"/><line x1="644.18" y1="511.50" x2="644.18" y2="517.50" stroke-width="2.6"/><line x1="638.18" y1="511.50" x2="650.18" y2="511.50" stroke-width="1.3"/><line x1="638.18" y1="517.50" x2="650.18" y2="517.50" stroke-width="1.3"/><line x1="648.48" y1="514.60" x2="648.48" y2="521.20" stroke-width="2.6"/><line x1="642.48" y1="514.60" x2="654.48" y2="514.60" stroke-width="1.3"/><line x1="642.48" y1="521.20" x2="654.48" y2="521.20" stroke-width="1.3"/><line x1="652.79" y1="530.30" x2="652.79" y2="537.30" stroke-width="2.6"/><line x1="646.79" y1="530.30" x2="658.79" y2="530.30" stroke-width="1.3"/><line x1="646.79" y1="537.30" x2="658.79" y2="537.30" stroke-width="1.3"/><line x1="657.10" y1="608.70" x2="657.10" y2="612.60" stroke-width="2.6"/><line x1="651.10" y1="608.70" x2="663.10" y2="608.70" stroke-width="1.3"/><line x1="651.10" y1="612.60" x2="663.10" y2="612.60" stroke-width="1.3"/></g>
<g fill="#0000ff" fill-opacity="0.7" stroke="#000" stroke-opacity="0.7" stroke-width="0.8"><circle cx="446.01" cy="384.40" r="3.0"/><circle cx="450.32" cy="395.00" r="3.0"/><circle cx="454.62" cy="411.60" r="3.0"/><circle cx="458.93" cy="414.90" r="3.0"/><circle cx="463.24" cy="419.10" r="3.0"/><circle cx="467.55" cy="419.40" r="3.0"/><circle cx="471.86" cy="424.10" r="3.0"/><circle cx="476.16" cy="428.70" r="3.0"/><circle cx="480.47" cy="432.50" r="3.0"/><circle cx="484.78" cy="432.80" r="3.0"/><circle cx="489.09" cy="436.30" r="3.0"/><circle cx="493.40" cy="441.30" r="3.0"/><circle cx="497.70" cy="442.70" r="3.0"/><circle cx="502.01" cy="443.00" r="3.0"/><circle cx="506.32" cy="443.20" r="3.0"/><circle cx="510.63" cy="448.60" r="3.0"/><circle cx="514.94" cy="448.80" r="3.0"/><circle cx="519.24" cy="448.90" r="3.0"/><circle cx="523.55" cy="448.90" r="3.0"/><circle cx="527.86" cy="449.30" r="3.0"/><circle cx="532.17" cy="451.40" r="3.0"/><circle cx="536.48" cy="452.40" r="3.0"/><circle cx="540.78" cy="452.80" r="3.0"/><circle cx="545.09" cy="453.40" r="3.0"/><circle cx="549.40" cy="453.90" r="3.0"/><circle cx="553.71" cy="453.90" r="3.0"/><circle cx="558.02" cy="454.50" r="3.0"/><circle cx="562.32" cy="456.30" r="3.0"/><circle cx="566.63" cy="457.10" r="3.0"/><circle cx="570.94" cy="459.20" r="3.0"/><circle cx="575.25" cy="460.90" r="3.0"/><circle cx="579.56" cy="464.10" r="3.0"/><circle cx="583.86" cy="464.50" r="3.0"/><circle cx="588.17" cy="466.80" r="3.0"/><circle cx="592.48" cy="469.00" r="3.0"/><circle cx="596.79" cy="470.40" r="3.0"/><circle cx="601.10" cy="470.90" r="3.0"/><circle cx="605.40" cy="475.50" r="3.0"/><circle cx="609.71" cy="475.50" r="3.0"/><circle cx="614.02" cy="476.30" r="3.0"/><circle cx="618.33" cy="480.70" r="3.0"/><circle cx="622.64" cy="483.90" r="3.0"/><circle cx="626.94" cy="486.50" r="3.0"/><circle cx="631.25" cy="491.60" r="3.0"/><circle cx="635.56" cy="491.90" r="3.0"/><circle cx="639.87" cy="499.20" r="3.0"/><circle cx="644.18" cy="514.20" r="3.0"/><circle cx="648.48" cy="517.90" r="3.0"/><circle cx="652.79" cy="533.20" r="3.0"/><circle cx="657.10" cy="611.10" r="3.0"/></g>
<line x1="435.6" y1="441.0" x2="667.8" y2="441.0" stroke="#ff0000" stroke-width="1.887" stroke-dasharray="12.08 3.02 1.89 3.02" fill="none"/>
<line x1="435.6" y1="474.4" x2="667.8" y2="474.4" stroke="#ff0000" stroke-width="1.887" stroke-dasharray="12.08 3.02 1.89 3.02" fill="none"/>
<line x1="435.6" y1="455.4" x2="667.8" y2="455.4" stroke="#000" stroke-width="1.887" stroke-dasharray="6.98 3.02" fill="none"/>
<rect x="424.1" y="373.2" width="255.19999999999993" height="250.3" fill="none" stroke="#000" stroke-width="1.6"/>
<line x1="417.40000000000003" y1="384.5" x2="424.1" y2="384.5" stroke="#000" stroke-width="1.6"/>
<text x="411.0" y="391.20" font-family="Liberation Serif" font-size="19" text-anchor="end">0</text>
<line x1="417.40000000000003" y1="463.6" x2="424.1" y2="463.6" stroke="#000" stroke-width="1.6"/>
<text x="411.0" y="470.30" font-family="Liberation Serif" font-size="19" text-anchor="end">−20</text>
<line x1="417.40000000000003" y1="542.7" x2="424.1" y2="542.7" stroke="#000" stroke-width="1.6"/>
<text x="411.0" y="549.40" font-family="Liberation Serif" font-size="19" text-anchor="end">−40</text>
<line x1="417.40000000000003" y1="621.8" x2="424.1" y2="621.8" stroke="#000" stroke-width="1.6"/>
<text x="411.0" y="628.50" font-family="Liberation Serif" font-size="19" text-anchor="end">−60</text>
<line x1="441.7" y1="623.5" x2="441.7" y2="630.2" stroke="#000" stroke-width="1.6"/>
<text x="441.70" y="650.30" font-family="Liberation Serif" font-size="19" text-anchor="middle">0</text>
<line x1="484.78" y1="623.5" x2="484.78" y2="630.2" stroke="#000" stroke-width="1.6"/>
<text x="484.78" y="650.30" font-family="Liberation Serif" font-size="19" text-anchor="middle">10</text>
<line x1="527.86" y1="623.5" x2="527.86" y2="630.2" stroke="#000" stroke-width="1.6"/>
<text x="527.86" y="650.30" font-family="Liberation Serif" font-size="19" text-anchor="middle">20</text>
<line x1="570.94" y1="623.5" x2="570.94" y2="630.2" stroke="#000" stroke-width="1.6"/>
<text x="570.94" y="650.30" font-family="Liberation Serif" font-size="19" text-anchor="middle">30</text>
<line x1="614.02" y1="623.5" x2="614.02" y2="630.2" stroke="#000" stroke-width="1.6"/>
<text x="614.02" y="650.30" font-family="Liberation Serif" font-size="19" text-anchor="middle">40</text>
<line x1="657.1" y1="623.5" x2="657.1" y2="630.2" stroke="#000" stroke-width="1.6"/>
<text x="657.10" y="650.30" font-family="Liberation Serif" font-size="19" text-anchor="middle">50</text>
<g transform="translate(372.3,517.0) rotate(-90)"><text x="0" y="0.0" font-family="Liberation Serif" font-size="17" text-anchor="middle">% Change in Adriamycin toxicity</text></g>
<text x="348" y="379.4" font-family="Liberation Serif" font-size="34" font-weight="bold">C)</text>
<g stroke="#0000ff" stroke-opacity="0.65" fill="none"><line x1="94.76" y1="698.40" x2="106.76" y2="698.40" stroke-width="1.3"/><line x1="94.76" y1="698.40" x2="106.76" y2="698.40" stroke-width="1.3"/><line x1="105.07" y1="751.00" x2="105.07" y2="751.60" stroke-width="2.6"/><line x1="99.07" y1="751.00" x2="111.07" y2="751.00" stroke-width="1.3"/><line x1="99.07" y1="751.60" x2="111.07" y2="751.60" stroke-width="1.3"/><line x1="109.37" y1="803.10" x2="109.37" y2="803.70" stroke-width="2.6"/><line x1="103.37" y1="803.10" x2="115.37" y2="803.10" stroke-width="1.3"/><line x1="103.37" y1="803.70" x2="115.37" y2="803.70" stroke-width="1.3"/><line x1="113.68" y1="807.30" x2="113.68" y2="807.90" stroke-width="2.6"/><line x1="107.68" y1="807.30" x2="119.68" y2="807.30" stroke-width="1.3"/><line x1="107.68" y1="807.90" x2="119.68" y2="807.90" stroke-width="1.3"/><line x1="117.99" y1="810.20" x2="117.99" y2="810.80" stroke-width="2.6"/><line x1="111.99" y1="810.20" x2="123.99" y2="810.20" stroke-width="1.3"/><line x1="111.99" y1="810.80" x2="123.99" y2="810.80" stroke-width="1.3"/><line x1="122.30" y1="819.80" x2="122.30" y2="820.40" stroke-width="2.6"/><line x1="116.30" y1="819.80" x2="128.30" y2="819.80" stroke-width="1.3"/><line x1="116.30" y1="820.40" x2="128.30" y2="820.40" stroke-width="1.3"/><line x1="126.61" y1="819.80" x2="126.61" y2="820.40" stroke-width="2.6"/><line x1="120.61" y1="819.80" x2="132.61" y2="819.80" stroke-width="1.3"/><line x1="120.61" y1="820.40" x2="132.61" y2="820.40" stroke-width="1.3"/><line x1="130.91" y1="828.30" x2="130.91" y2="828.90" stroke-width="2.6"/><line x1="124.91" y1="828.30" x2="136.91" y2="828.30" stroke-width="1.3"/><line x1="124.91" y1="828.90" x2="136.91" y2="828.90" stroke-width="1.3"/><line x1="135.22" y1="829.80" x2="135.22" y2="830.40" stroke-width="2.6"/><line x1="129.22" y1="829.80" x2="141.22" y2="829.80" stroke-width="1.3"/><line x1="129.22" y1="830.40" x2="141.22" y2="830.40" stroke-width="1.3"/><line x1="139.53" y1="832.40" x2="139.53" y2="833.00" stroke-width="2.6"/><line x1="133.53" y1="832.40" x2="145.53" y2="832.40" stroke-width="1.3"/><line x1="133.53" y1="833.00" x2="145.53" y2="833.00" stroke-width="1.3"/><line x1="143.84" y1="833.90" x2="143.84" y2="834.50" stroke-width="2.6"/><line x1="137.84" y1="833.90" x2="149.84" y2="833.90" stroke-width="1.3"/><line x1="137.84" y1="834.50" x2="149.84" y2="834.50" stroke-width="1.3"/><line x1="148.15" y1="836.80" x2="148.15" y2="837.40" stroke-width="2.6"/><line x1="142.15" y1="836.80" x2="154.15" y2="836.80" stroke-width="1.3"/><line x1="142.15" y1="837.40" x2="154.15" y2="837.40" stroke-width="1.3"/><line x1="152.45" y1="840.00" x2="152.45" y2="840.60" stroke-width="2.6"/><line x1="146.45" y1="840.00" x2="158.45" y2="840.00" stroke-width="1.3"/><line x1="146.45" y1="840.60" x2="158.45" y2="840.60" stroke-width="1.3"/><line x1="156.76" y1="843.50" x2="156.76" y2="844.10" stroke-width="2.6"/><line x1="150.76" y1="843.50" x2="162.76" y2="843.50" stroke-width="1.3"/><line x1="150.76" y1="844.10" x2="162.76" y2="844.10" stroke-width="1.3"/><line x1="161.07" y1="844.10" x2="161.07" y2="844.70" stroke-width="2.6"/><line x1="155.07" y1="844.10" x2="167.07" y2="844.10" stroke-width="1.3"/><line x1="155.07" y1="844.70" x2="167.07" y2="844.70" stroke-width="1.3"/><line x1="165.38" y1="847.00" x2="165.38" y2="847.60" stroke-width="2.6"/><line x1="159.38" y1="847.00" x2="171.38" y2="847.00" stroke-width="1.3"/><line x1="159.38" y1="847.60" x2="171.38" y2="847.60" stroke-width="1.3"/><line x1="169.69" y1="848.20" x2="169.69" y2="848.80" stroke-width="2.6"/><line x1="163.69" y1="848.20" x2="175.69" y2="848.20" stroke-width="1.3"/><line x1="163.69" y1="848.80" x2="175.69" y2="848.80" stroke-width="1.3"/><line x1="173.99" y1="849.70" x2="173.99" y2="850.30" stroke-width="2.6"/><line x1="167.99" y1="849.70" x2="179.99" y2="849.70" stroke-width="1.3"/><line x1="167.99" y1="850.30" x2="179.99" y2="850.30" stroke-width="1.3"/><line x1="178.30" y1="852.30" x2="178.30" y2="852.90" stroke-width="2.6"/><line x1="172.30" y1="852.30" x2="184.30" y2="852.30" stroke-width="1.3"/><line x1="172.30" y1="852.90" x2="184.30" y2="852.90" stroke-width="1.3"/><line x1="182.61" y1="852.60" x2="182.61" y2="853.20" stroke-width="2.6"/><line x1="176.61" y1="852.60" x2="188.61" y2="852.60" stroke-width="1.3"/><line x1="176.61" y1="853.20" x2="188.61" y2="853.20" stroke-width="1.3"/><line x1="186.92" y1="853.70" x2="186.92" y2="854.30" stroke-width="2.6"/><line x1="180.92" y1="853.70" x2="192.92" y2="853.70" stroke-width="1.3"/><line x1="180.92" y1="854.30" x2="192.92" y2="854.30" stroke-width="1.3"/><line x1="191.23" y1="857.00" x2="191.23" y2="857.60" stroke-width="2.6"/><line x1="185.23" y1="857.00" x2="197.23" y2="857.00" stroke-width="1.3"/><line x1="185.23" y1="857.60" x2="197.23" y2="857.60" stroke-width="1.3"/><line x1="195.53" y1="861.10" x2="195.53" y2="861.70" stroke-width="2.6"/><line x1="189.53" y1="861.10" x2="201.53" y2="861.10" stroke-width="1.3"/><line x1="189.53" y1="861.70" x2="201.53" y2="861.70" stroke-width="1.3"/><line x1="199.84" y1="861.10" x2="199.84" y2="861.70" stroke-width="2.6"/><line x1="193.84" y1="861.10" x2="205.84" y2="861.10" stroke-width="1.3"/><line x1="193.84" y1="861.70" x2="205.84" y2="861.70" stroke-width="1.3"/><line x1="204.15" y1="864.20" x2="204.15" y2="864.80" stroke-width="2.6"/><line x1="198.15" y1="864.20" x2="210.15" y2="864.20" stroke-width="1.3"/><line x1="198.15" y1="864.80" x2="210.15" y2="864.80" stroke-width="1.3"/><line x1="208.46" y1="867.70" x2="208.46" y2="868.30" stroke-width="2.6"/><line x1="202.46" y1="867.70" x2="214.46" y2="867.70" stroke-width="1.3"/><line x1="202.46" y1="868.30" x2="214.46" y2="868.30" stroke-width="1.3"/><line x1="212.77" y1="869.80" x2="212.77" y2="870.40" stroke-width="2.6"/><line x1="206.77" y1="869.80" x2="218.77" y2="869.80" stroke-width="1.3"/><line x1="206.77" y1="870.40" x2="218.77" y2="870.40" stroke-width="1.3"/><line x1="217.07" y1="871.50" x2="217.07" y2="872.10" stroke-width="2.6"/><line x1="211.07" y1="871.50" x2="223.07" y2="871.50" stroke-width="1.3"/><line x1="211.07" y1="872.10" x2="223.07" y2="872.10" stroke-width="1.3"/><line x1="221.38" y1="873.60" x2="221.38" y2="874.20" stroke-width="2.6"/><line x1="215.38" y1="873.60" x2="227.38" y2="873.60" stroke-width="1.3"/><line x1="215.38" y1="874.20" x2="227.38" y2="874.20" stroke-width="1.3"/><line x1="225.69" y1="875.30" x2="225.69" y2="875.90" stroke-width="2.6"/><line x1="219.69" y1="875.30" x2="231.69" y2="875.30" stroke-width="1.3"/><line x1="219.69" y1="875.90" x2="231.69" y2="875.90" stroke-width="1.3"/><line x1="230.00" y1="884.10" x2="230.00" y2="884.70" stroke-width="2.6"/><line x1="224.00" y1="884.10" x2="236.00" y2="884.10" stroke-width="1.3"/><line x1="224.00" y1="884.70" x2="236.00" y2="884.70" stroke-width="1.3"/><line x1="234.31" y1="884.10" x2="234.31" y2="884.70" stroke-width="2.6"/><line x1="228.31" y1="884.10" x2="240.31" y2="884.10" stroke-width="1.3"/><line x1="228.31" y1="884.70" x2="240.31" y2="884.70" stroke-width="1.3"/><line x1="238.61" y1="885.80" x2="238.61" y2="886.40" stroke-width="2.6"/><line x1="232.61" y1="885.80" x2="244.61" y2="885.80" stroke-width="1.3"/><line x1="232.61" y1="886.40" x2="244.61" y2="886.40" stroke-width="1.3"/><line x1="242.92" y1="888.20" x2="242.92" y2="888.80" stroke-width="2.6"/><line x1="236.92" y1="888.20" x2="248.92" y2="888.20" stroke-width="1.3"/><line x1="236.92" y1="888.80" x2="248.92" y2="888.80" stroke-width="1.3"/><line x1="247.23" y1="891.50" x2="247.23" y2="892.10" stroke-width="2.6"/><line x1="241.23" y1="891.50" x2="253.23" y2="891.50" stroke-width="1.3"/><line x1="241.23" y1="892.10" x2="253.23" y2="892.10" stroke-width="1.3"/><line x1="251.54" y1="893.60" x2="251.54" y2="894.20" stroke-width="2.6"/><line x1="245.54" y1="893.60" x2="257.54" y2="893.60" stroke-width="1.3"/><line x1="245.54" y1="894.20" x2="257.54" y2="894.20" stroke-width="1.3"/><line x1="255.85" y1="895.30" x2="255.85" y2="895.90" stroke-width="2.6"/><line x1="249.85" y1="895.30" x2="261.85" y2="895.30" stroke-width="1.3"/><line x1="249.85" y1="895.90" x2="261.85" y2="895.90" stroke-width="1.3"/><line x1="260.15" y1="898.20" x2="260.15" y2="898.80" stroke-width="2.6"/><line x1="254.15" y1="898.20" x2="266.15" y2="898.20" stroke-width="1.3"/><line x1="254.15" y1="898.80" x2="266.15" y2="898.80" stroke-width="1.3"/><line x1="264.46" y1="900.70" x2="264.46" y2="901.30" stroke-width="2.6"/><line x1="258.46" y1="900.70" x2="270.46" y2="900.70" stroke-width="1.3"/><line x1="258.46" y1="901.30" x2="270.46" y2="901.30" stroke-width="1.3"/><line x1="268.77" y1="902.50" x2="268.77" y2="903.10" stroke-width="2.6"/><line x1="262.77" y1="902.50" x2="274.77" y2="902.50" stroke-width="1.3"/><line x1="262.77" y1="903.10" x2="274.77" y2="903.10" stroke-width="1.3"/><line x1="273.08" y1="902.80" x2="273.08" y2="903.40" stroke-width="2.6"/><line x1="267.08" y1="902.80" x2="279.08" y2="902.80" stroke-width="1.3"/><line x1="267.08" y1="903.40" x2="279.08" y2="903.40" stroke-width="1.3"/><line x1="277.39" y1="903.10" x2="277.39" y2="903.70" stroke-width="2.6"/><line x1="271.39" y1="903.10" x2="283.39" y2="903.10" stroke-width="1.3"/><line x1="271.39" y1="903.70" x2="283.39" y2="903.70" stroke-width="1.3"/><line x1="281.69" y1="903.40" x2="281.69" y2="904.00" stroke-width="2.6"/><line x1="275.69" y1="903.40" x2="287.69" y2="903.40" stroke-width="1.3"/><line x1="275.69" y1="904.00" x2="287.69" y2="904.00" stroke-width="1.3"/><line x1="286.00" y1="903.60" x2="286.00" y2="904.20" stroke-width="2.6"/><line x1="280.00" y1="903.60" x2="292.00" y2="903.60" stroke-width="1.3"/><line x1="280.00" y1="904.20" x2="292.00" y2="904.20" stroke-width="1.3"/><line x1="290.31" y1="906.00" x2="290.31" y2="906.60" stroke-width="2.6"/><line x1="284.31" y1="906.00" x2="296.31" y2="906.00" stroke-width="1.3"/><line x1="284.31" y1="906.60" x2="296.31" y2="906.60" stroke-width="1.3"/><line x1="294.62" y1="906.60" x2="294.62" y2="907.20" stroke-width="2.6"/><line x1="288.62" y1="906.60" x2="300.62" y2="906.60" stroke-width="1.3"/><line x1="288.62" y1="907.20" x2="300.62" y2="907.20" stroke-width="1.3"/><line x1="298.93" y1="907.70" x2="298.93" y2="908.30" stroke-width="2.6"/><line x1="292.93" y1="907.70" x2="304.93" y2="907.70" stroke-width="1.3"/><line x1="292.93" y1="908.30" x2="304.93" y2="908.30" stroke-width="1.3"/><line x1="303.23" y1="908.10" x2="303.23" y2="908.70" stroke-width="2.6"/><line x1="297.23" y1="908.10" x2="309.23" y2="908.10" stroke-width="1.3"/><line x1="297.23" y1="908.70" x2="309.23" y2="908.70" stroke-width="1.3"/><line x1="307.54" y1="920.30" x2="307.54" y2="920.90" stroke-width="2.6"/><line x1="301.54" y1="920.30" x2="313.54" y2="920.30" stroke-width="1.3"/><line x1="301.54" y1="920.90" x2="313.54" y2="920.90" stroke-width="1.3"/><line x1="311.85" y1="925.50" x2="311.85" y2="926.10" stroke-width="2.6"/><line x1="305.85" y1="925.50" x2="317.85" y2="925.50" stroke-width="1.3"/><line x1="305.85" y1="926.10" x2="317.85" y2="926.10" stroke-width="1.3"/></g>
<g fill="#0000ff" fill-opacity="0.7" stroke="#000" stroke-opacity="0.7" stroke-width="0.8"><circle cx="100.76" cy="698.40" r="3.0"/><circle cx="105.07" cy="751.30" r="3.0"/><circle cx="109.37" cy="803.40" r="3.0"/><circle cx="113.68" cy="807.60" r="3.0"/><circle cx="117.99" cy="810.50" r="3.0"/><circle cx="122.30" cy="820.10" r="3.0"/><circle cx="126.61" cy="820.10" r="3.0"/><circle cx="130.91" cy="828.60" r="3.0"/><circle cx="135.22" cy="830.10" r="3.0"/><circle cx="139.53" cy="832.70" r="3.0"/><circle cx="143.84" cy="834.20" r="3.0"/><circle cx="148.15" cy="837.10" r="3.0"/><circle cx="152.45" cy="840.30" r="3.0"/><circle cx="156.76" cy="843.80" r="3.0"/><circle cx="161.07" cy="844.40" r="3.0"/><circle cx="165.38" cy="847.30" r="3.0"/><circle cx="169.69" cy="848.50" r="3.0"/><circle cx="173.99" cy="850.00" r="3.0"/><circle cx="178.30" cy="852.60" r="3.0"/><circle cx="182.61" cy="852.90" r="3.0"/><circle cx="186.92" cy="854.00" r="3.0"/><circle cx="191.23" cy="857.30" r="3.0"/><circle cx="195.53" cy="861.40" r="3.0"/><circle cx="199.84" cy="861.40" r="3.0"/><circle cx="204.15" cy="864.50" r="3.0"/><circle cx="208.46" cy="868.00" r="3.0"/><circle cx="212.77" cy="870.10" r="3.0"/><circle cx="217.07" cy="871.80" r="3.0"/><circle cx="221.38" cy="873.90" r="3.0"/><circle cx="225.69" cy="875.60" r="3.0"/><circle cx="230.00" cy="884.40" r="3.0"/><circle cx="234.31" cy="884.40" r="3.0"/><circle cx="238.61" cy="886.10" r="3.0"/><circle cx="242.92" cy="888.50" r="3.0"/><circle cx="247.23" cy="891.80" r="3.0"/><circle cx="251.54" cy="893.90" r="3.0"/><circle cx="255.85" cy="895.60" r="3.0"/><circle cx="260.15" cy="898.50" r="3.0"/><circle cx="264.46" cy="901.00" r="3.0"/><circle cx="268.77" cy="902.80" r="3.0"/><circle cx="273.08" cy="903.10" r="3.0"/><circle cx="277.39" cy="903.40" r="3.0"/><circle cx="281.69" cy="903.70" r="3.0"/><circle cx="286.00" cy="903.90" r="3.0"/><circle cx="290.31" cy="906.30" r="3.0"/><circle cx="294.62" cy="906.90" r="3.0"/><circle cx="298.93" cy="908.00" r="3.0"/><circle cx="303.23" cy="908.40" r="3.0"/><circle cx="307.54" cy="920.60" r="3.0"/><circle cx="311.85" cy="925.80" r="3.0"/></g>
<line x1="90.5" y1="840.8" x2="322.5" y2="840.8" stroke="#ff0000" stroke-width="1.887" stroke-dasharray="12.08 3.02 1.89 3.02" fill="none"/>
<line x1="90.5" y1="898.5" x2="322.5" y2="898.5" stroke="#ff0000" stroke-width="1.887" stroke-dasharray="12.08 3.02 1.89 3.02" fill="none"/>
<line x1="90.5" y1="865.9" x2="322.5" y2="865.9" stroke="#000" stroke-width="1.887" stroke-dasharray="6.98 3.02" fill="none"/>
<rect x="79.1" y="687.3" width="254.79999999999998" height="250.20000000000005" fill="none" stroke="#000" stroke-width="1.6"/>
<line x1="72.39999999999999" y1="698.2" x2="79.1" y2="698.2" stroke="#000" stroke-width="1.6"/>
<text x="66.0" y="704.90" font-family="Liberation Serif" font-size="19" text-anchor="end">0</text>
<line x1="72.39999999999999" y1="755.75" x2="79.1" y2="755.75" stroke="#000" stroke-width="1.6"/>
<text x="66.0" y="762.45" font-family="Liberation Serif" font-size="19" text-anchor="end">−20</text>
<line x1="72.39999999999999" y1="813.3" x2="79.1" y2="813.3" stroke="#000" stroke-width="1.6"/>
<text x="66.0" y="820.00" font-family="Liberation Serif" font-size="19" text-anchor="end">−40</text>
<line x1="72.39999999999999" y1="870.85" x2="79.1" y2="870.85" stroke="#000" stroke-width="1.6"/>
<text x="66.0" y="877.55" font-family="Liberation Serif" font-size="19" text-anchor="end">−60</text>
<line x1="72.39999999999999" y1="928.4" x2="79.1" y2="928.4" stroke="#000" stroke-width="1.6"/>
<text x="66.0" y="935.10" font-family="Liberation Serif" font-size="19" text-anchor="end">−80</text>
<line x1="96.45" y1="937.5" x2="96.45" y2="944.2" stroke="#000" stroke-width="1.6"/>
<text x="96.45" y="964.30" font-family="Liberation Serif" font-size="19" text-anchor="middle">0</text>
<line x1="139.53" y1="937.5" x2="139.53" y2="944.2" stroke="#000" stroke-width="1.6"/>
<text x="139.53" y="964.30" font-family="Liberation Serif" font-size="19" text-anchor="middle">10</text>
<line x1="182.61" y1="937.5" x2="182.61" y2="944.2" stroke="#000" stroke-width="1.6"/>
<text x="182.61" y="964.30" font-family="Liberation Serif" font-size="19" text-anchor="middle">20</text>
<line x1="225.69" y1="937.5" x2="225.69" y2="944.2" stroke="#000" stroke-width="1.6"/>
<text x="225.69" y="964.30" font-family="Liberation Serif" font-size="19" text-anchor="middle">30</text>
<line x1="268.77" y1="937.5" x2="268.77" y2="944.2" stroke="#000" stroke-width="1.6"/>
<text x="268.77" y="964.30" font-family="Liberation Serif" font-size="19" text-anchor="middle">40</text>
<line x1="311.85" y1="937.5" x2="311.85" y2="944.2" stroke="#000" stroke-width="1.6"/>
<text x="311.85" y="964.30" font-family="Liberation Serif" font-size="19" text-anchor="middle">50</text>
<g transform="translate(15.0,824.7) rotate(-90)"><text x="0" y="0.0" font-family="Liberation Serif" font-size="17" text-anchor="middle">% Change in cyclophosphamide</text><text x="0" y="17.3" font-family="Liberation Serif" font-size="17" text-anchor="middle">max concentration</text></g>
<text x="2.5" y="679.5" font-family="Liberation Serif" font-size="34" font-weight="bold">D)</text>
<text x="206.7" y="988.2" font-family="Liberation Serif" font-size="19" text-anchor="middle">Patient</text>
<g stroke="#0000ff" stroke-opacity="0.65" fill="none"><line x1="440.01" y1="698.30" x2="452.01" y2="698.30" stroke-width="1.3"/><line x1="440.01" y1="698.30" x2="452.01" y2="698.30" stroke-width="1.3"/><line x1="450.32" y1="713.40" x2="450.32" y2="717.50" stroke-width="2.6"/><line x1="444.32" y1="713.40" x2="456.32" y2="713.40" stroke-width="1.3"/><line x1="444.32" y1="717.50" x2="456.32" y2="717.50" stroke-width="1.3"/><line x1="454.62" y1="719.00" x2="454.62" y2="728.80" stroke-width="2.6"/><line x1="448.62" y1="719.00" x2="460.62" y2="719.00" stroke-width="1.3"/><line x1="448.62" y1="728.80" x2="460.62" y2="728.80" stroke-width="1.3"/><line x1="458.93" y1="728.30" x2="458.93" y2="734.00" stroke-width="2.6"/><line x1="452.93" y1="728.30" x2="464.93" y2="728.30" stroke-width="1.3"/><line x1="452.93" y1="734.00" x2="464.93" y2="734.00" stroke-width="1.3"/><line x1="463.24" y1="735.20" x2="463.24" y2="742.50" stroke-width="2.6"/><line x1="457.24" y1="735.20" x2="469.24" y2="735.20" stroke-width="1.3"/><line x1="457.24" y1="742.50" x2="469.24" y2="742.50" stroke-width="1.3"/><line x1="467.55" y1="738.00" x2="467.55" y2="747.60" stroke-width="2.6"/><line x1="461.55" y1="738.00" x2="473.55" y2="738.00" stroke-width="1.3"/><line x1="461.55" y1="747.60" x2="473.55" y2="747.60" stroke-width="1.3"/><line x1="471.86" y1="738.50" x2="471.86" y2="749.00" stroke-width="2.6"/><line x1="465.86" y1="738.50" x2="477.86" y2="738.50" stroke-width="1.3"/><line x1="465.86" y1="749.00" x2="477.86" y2="749.00" stroke-width="1.3"/><line x1="476.16" y1="744.00" x2="476.16" y2="747.50" stroke-width="2.6"/><line x1="470.16" y1="744.00" x2="482.16" y2="744.00" stroke-width="1.3"/><line x1="470.16" y1="747.50" x2="482.16" y2="747.50" stroke-width="1.3"/><line x1="480.47" y1="746.20" x2="480.47" y2="754.20" stroke-width="2.6"/><line x1="474.47" y1="746.20" x2="486.47" y2="746.20" stroke-width="1.3"/><line x1="474.47" y1="754.20" x2="486.47" y2="754.20" stroke-width="1.3"/><line x1="484.78" y1="747.00" x2="484.78" y2="757.00" stroke-width="2.6"/><line x1="478.78" y1="747.00" x2="490.78" y2="747.00" stroke-width="1.3"/><line x1="478.78" y1="757.00" x2="490.78" y2="757.00" stroke-width="1.3"/><line x1="489.09" y1="740.50" x2="489.09" y2="760.40" stroke-width="2.6"/><line x1="483.09" y1="740.50" x2="495.09" y2="740.50" stroke-width="1.3"/><line x1="483.09" y1="760.40" x2="495.09" y2="760.40" stroke-width="1.3"/><line x1="493.40" y1="753.00" x2="493.40" y2="762.00" stroke-width="2.6"/><line x1="487.40" y1="753.00" x2="499.40" y2="753.00" stroke-width="1.3"/><line x1="487.40" y1="762.00" x2="499.40" y2="762.00" stroke-width="1.3"/><line x1="497.70" y1="755.70" x2="497.70" y2="767.30" stroke-width="2.6"/><line x1="491.70" y1="755.70" x2="503.70" y2="755.70" stroke-width="1.3"/><line x1="491.70" y1="767.30" x2="503.70" y2="767.30" stroke-width="1.3"/><line x1="502.01" y1="753.90" x2="502.01" y2="768.00" stroke-width="2.6"/><line x1="496.01" y1="753.90" x2="508.01" y2="753.90" stroke-width="1.3"/><line x1="496.01" y1="768.00" x2="508.01" y2="768.00" stroke-width="1.3"/><line x1="506.32" y1="755.50" x2="506.32" y2="766.00" stroke-width="2.6"/><line x1="500.32" y1="755.50" x2="512.32" y2="755.50" stroke-width="1.3"/><line x1="500.32" y1="766.00" x2="512.32" y2="766.00" stroke-width="1.3"/><line x1="510.63" y1="755.30" x2="510.63" y2="768.40" stroke-width="2.6"/><line x1="504.63" y1="755.30" x2="516.63" y2="755.30" stroke-width="1.3"/><line x1="504.63" y1="768.40" x2="516.63" y2="768.40" stroke-width="1.3"/><line x1="514.94" y1="759.50" x2="514.94" y2="768.80" stroke-width="2.6"/><line x1="508.94" y1="759.50" x2="520.94" y2="759.50" stroke-width="1.3"/><line x1="508.94" y1="768.80" x2="520.94" y2="768.80" stroke-width="1.3"/><line x1="519.24" y1="760.50" x2="519.24" y2="771.50" stroke-width="2.6"/><line x1="513.24" y1="760.50" x2="525.24" y2="760.50" stroke-width="1.3"/><line x1="513.24" y1="771.50" x2="525.24" y2="771.50" stroke-width="1.3"/><line x1="523.55" y1="764.50" x2="523.55" y2="773.60" stroke-width="2.6"/><line x1="517.55" y1="764.50" x2="529.55" y2="764.50" stroke-width="1.3"/><line x1="517.55" y1="773.60" x2="529.55" y2="773.60" stroke-width="1.3"/><line x1="527.86" y1="765.50" x2="527.86" y2="773.20" stroke-width="2.6"/><line x1="521.86" y1="765.50" x2="533.86" y2="765.50" stroke-width="1.3"/><line x1="521.86" y1="773.20" x2="533.86" y2="773.20" stroke-width="1.3"/><line x1="532.17" y1="765.60" x2="532.17" y2="773.00" stroke-width="2.6"/><line x1="526.17" y1="765.60" x2="538.17" y2="765.60" stroke-width="1.3"/><line x1="526.17" y1="773.00" x2="538.17" y2="773.00" stroke-width="1.3"/><line x1="536.48" y1="765.60" x2="536.48" y2="775.40" stroke-width="2.6"/><line x1="530.48" y1="765.60" x2="542.48" y2="765.60" stroke-width="1.3"/><line x1="530.48" y1="775.40" x2="542.48" y2="775.40" stroke-width="1.3"/><line x1="540.78" y1="765.80" x2="540.78" y2="776.30" stroke-width="2.6"/><line x1="534.78" y1="765.80" x2="546.78" y2="765.80" stroke-width="1.3"/><line x1="534.78" y1="776.30" x2="546.78" y2="776.30" stroke-width="1.3"/><line x1="545.09" y1="765.60" x2="545.09" y2="776.30" stroke-width="2.6"/><line x1="539.09" y1="765.60" x2="551.09" y2="765.60" stroke-width="1.3"/><line x1="539.09" y1="776.30" x2="551.09" y2="776.30" stroke-width="1.3"/><line x1="549.40" y1="766.20" x2="549.40" y2="776.00" stroke-width="2.6"/><line x1="543.40" y1="766.20" x2="555.40" y2="766.20" stroke-width="1.3"/><line x1="543.40" y1="776.00" x2="555.40" y2="776.00" stroke-width="1.3"/><line x1="553.71" y1="769.30" x2="553.71" y2="780.60" stroke-width="2.6"/><line x1="547.71" y1="769.30" x2="559.71" y2="769.30" stroke-width="1.3"/><line x1="547.71" y1="780.60" x2="559.71" y2="780.60" stroke-width="1.3"/><line x1="558.02" y1="768.80" x2="558.02" y2="778.90" stroke-width="2.6"/><line x1="552.02" y1="768.80" x2="564.02" y2="768.80" stroke-width="1.3"/><line x1="552.02" y1="778.90" x2="564.02" y2="778.90" stroke-width="1.3"/><line x1="562.32" y1="770.00" x2="562.32" y2="778.00" stroke-width="2.6"/><line x1="556.32" y1="770.00" x2="568.32" y2="770.00" stroke-width="1.3"/><line x1="556.32" y1="778.00" x2="568.32" y2="778.00" stroke-width="1.3"/><line x1="566.63" y1="776.60" x2="566.63" y2="786.20" stroke-width="2.6"/><line x1="560.63" y1="776.60" x2="572.63" y2="776.60" stroke-width="1.3"/><line x1="560.63" y1="786.20" x2="572.63" y2="786.20" stroke-width="1.3"/><line x1="570.94" y1="777.50" x2="570.94" y2="788.40" stroke-width="2.6"/><line x1="564.94" y1="777.50" x2="576.94" y2="777.50" stroke-width="1.3"/><line x1="564.94" y1="788.40" x2="576.94" y2="788.40" stroke-width="1.3"/><line x1="575.25" y1="779.20" x2="575.25" y2="788.80" stroke-width="2.6"/><line x1="569.25" y1="779.20" x2="581.25" y2="779.20" stroke-width="1.3"/><line x1="569.25" y1="788.80" x2="581.25" y2="788.80" stroke-width="1.3"/><line x1="579.56" y1="781.40" x2="579.56" y2="791.00" stroke-width="2.6"/><line x1="573.56" y1="781.40" x2="585.56" y2="781.40" stroke-width="1.3"/><line x1="573.56" y1="791.00" x2="585.56" y2="791.00" stroke-width="1.3"/><line x1="583.86" y1="781.40" x2="583.86" y2="789.80" stroke-width="2.6"/><line x1="577.86" y1="781.40" x2="589.86" y2="781.40" stroke-width="1.3"/><line x1="577.86" y1="789.80" x2="589.86" y2="789.80" stroke-width="1.3"/><line x1="588.17" y1="782.30" x2="588.17" y2="791.90" stroke-width="2.6"/><line x1="582.17" y1="782.30" x2="594.17" y2="782.30" stroke-width="1.3"/><line x1="582.17" y1="791.90" x2="594.17" y2="791.90" stroke-width="1.3"/><line x1="592.48" y1="786.20" x2="592.48" y2="795.40" stroke-width="2.6"/><line x1="586.48" y1="786.20" x2="598.48" y2="786.20" stroke-width="1.3"/><line x1="586.48" y1="795.40" x2="598.48" y2="795.40" stroke-width="1.3"/><line x1="596.79" y1="779.20" x2="596.79" y2="791.90" stroke-width="2.6"/><line x1="590.79" y1="779.20" x2="602.79" y2="779.20" stroke-width="1.3"/><line x1="590.79" y1="791.90" x2="602.79" y2="791.90" stroke-width="1.3"/><line x1="601.10" y1="787.10" x2="601.10" y2="798.90" stroke-width="2.6"/><line x1="595.10" y1="787.10" x2="607.10" y2="787.10" stroke-width="1.3"/><line x1="595.10" y1="798.90" x2="607.10" y2="798.90" stroke-width="1.3"/><line x1="605.40" y1="786.70" x2="605.40" y2="799.10" stroke-width="2.6"/><line x1="599.40" y1="786.70" x2="611.40" y2="786.70" stroke-width="1.3"/><line x1="599.40" y1="799.10" x2="611.40" y2="799.10" stroke-width="1.3"/><line x1="609.71" y1="785.40" x2="609.71" y2="800.20" stroke-width="2.6"/><line x1="603.71" y1="785.40" x2="615.71" y2="785.40" stroke-width="1.3"/><line x1="603.71" y1="800.20" x2="615.71" y2="800.20" stroke-width="1.3"/><line x1="614.02" y1="788.50" x2="614.02" y2="801.50" stroke-width="2.6"/><line x1="608.02" y1="788.50" x2="620.02" y2="788.50" stroke-width="1.3"/><line x1="608.02" y1="801.50" x2="620.02" y2="801.50" stroke-width="1.3"/><line x1="618.33" y1="787.00" x2="618.33" y2="800.90" stroke-width="2.6"/><line x1="612.33" y1="787.00" x2="624.33" y2="787.00" stroke-width="1.3"/><line x1="612.33" y1="800.90" x2="624.33" y2="800.90" stroke-width="1.3"/><line x1="622.64" y1="787.00" x2="622.64" y2="803.10" stroke-width="2.6"/><line x1="616.64" y1="787.00" x2="628.64" y2="787.00" stroke-width="1.3"/><line x1="616.64" y1="803.10" x2="628.64" y2="803.10" stroke-width="1.3"/><line x1="626.94" y1="794.00" x2="626.94" y2="803.50" stroke-width="2.6"/><line x1="620.94" y1="794.00" x2="632.94" y2="794.00" stroke-width="1.3"/><line x1="620.94" y1="803.50" x2="632.94" y2="803.50" stroke-width="1.3"/><line x1="631.25" y1="800.00" x2="631.25" y2="809.00" stroke-width="2.6"/><line x1="625.25" y1="800.00" x2="637.25" y2="800.00" stroke-width="1.3"/><line x1="625.25" y1="809.00" x2="637.25" y2="809.00" stroke-width="1.3"/><line x1="635.56" y1="801.60" x2="635.56" y2="804.60" stroke-width="2.6"/><line x1="629.56" y1="801.60" x2="641.56" y2="801.60" stroke-width="1.3"/><line x1="629.56" y1="804.60" x2="641.56" y2="804.60" stroke-width="1.3"/><line x1="639.87" y1="804.60" x2="639.87" y2="814.40" stroke-width="2.6"/><line x1="633.87" y1="804.60" x2="645.87" y2="804.60" stroke-width="1.3"/><line x1="633.87" y1="814.40" x2="645.87" y2="814.40" stroke-width="1.3"/><line x1="644.18" y1="823.60" x2="644.18" y2="835.40" stroke-width="2.6"/><line x1="638.18" y1="823.60" x2="650.18" y2="823.60" stroke-width="1.3"/><line x1="638.18" y1="835.40" x2="650.18" y2="835.40" stroke-width="1.3"/><line x1="648.48" y1="830.60" x2="648.48" y2="838.60" stroke-width="2.6"/><line x1="642.48" y1="830.60" x2="654.48" y2="830.60" stroke-width="1.3"/><line x1="642.48" y1="838.60" x2="654.48" y2="838.60" stroke-width="1.3"/><line x1="652.79" y1="840.50" x2="652.79" y2="847.10" stroke-width="2.6"/><line x1="646.79" y1="840.50" x2="658.79" y2="840.50" stroke-width="1.3"/><line x1="646.79" y1="847.10" x2="658.79" y2="847.10" stroke-width="1.3"/><line x1="657.10" y1="918.30" x2="657.10" y2="926.10" stroke-width="2.6"/><line x1="651.10" y1="918.30" x2="663.10" y2="918.30" stroke-width="1.3"/><line x1="651.10" y1="926.10" x2="663.10" y2="926.10" stroke-width="1.3"/></g>
<g fill="#0000ff" fill-opacity="0.7" stroke="#000" stroke-opacity="0.7" stroke-width="0.8"><circle cx="446.01" cy="698.30" r="3.0"/><circle cx="450.32" cy="716.00" r="3.0"/><circle cx="454.62" cy="723.90" r="3.0"/><circle cx="458.93" cy="730.90" r="3.0"/><circle cx="463.24" cy="738.90" r="3.0"/><circle cx="467.55" cy="743.20" r="3.0"/><circle cx="471.86" cy="744.70" r="3.0"/><circle cx="476.16" cy="745.40" r="3.0"/><circle cx="480.47" cy="750.30" r="3.0"/><circle cx="484.78" cy="751.60" r="3.0"/><circle cx="489.09" cy="751.70" r="3.0"/><circle cx="493.40" cy="755.80" r="3.0"/><circle cx="497.70" cy="760.50" r="3.0"/><circle cx="502.01" cy="761.90" r="3.0"/><circle cx="506.32" cy="762.00" r="3.0"/><circle cx="510.63" cy="762.00" r="3.0"/><circle cx="514.94" cy="762.20" r="3.0"/><circle cx="519.24" cy="765.40" r="3.0"/><circle cx="523.55" cy="768.00" r="3.0"/><circle cx="527.86" cy="768.90" r="3.0"/><circle cx="532.17" cy="769.30" r="3.0"/><circle cx="536.48" cy="769.90" r="3.0"/><circle cx="540.78" cy="770.50" r="3.0"/><circle cx="545.09" cy="770.50" r="3.0"/><circle cx="549.40" cy="770.90" r="3.0"/><circle cx="553.71" cy="772.40" r="3.0"/><circle cx="558.02" cy="774.20" r="3.0"/><circle cx="562.32" cy="775.40" r="3.0"/><circle cx="566.63" cy="782.10" r="3.0"/><circle cx="570.94" cy="782.60" r="3.0"/><circle cx="575.25" cy="782.70" r="3.0"/><circle cx="579.56" cy="784.60" r="3.0"/><circle cx="583.86" cy="785.40" r="3.0"/><circle cx="588.17" cy="787.20" r="3.0"/><circle cx="592.48" cy="788.70" r="3.0"/><circle cx="596.79" cy="789.00" r="3.0"/><circle cx="601.10" cy="791.90" r="3.0"/><circle cx="605.40" cy="792.60" r="3.0"/><circle cx="609.71" cy="792.60" r="3.0"/><circle cx="614.02" cy="792.60" r="3.0"/><circle cx="618.33" cy="796.00" r="3.0"/><circle cx="622.64" cy="796.00" r="3.0"/><circle cx="626.94" cy="799.50" r="3.0"/><circle cx="631.25" cy="802.80" r="3.0"/><circle cx="635.56" cy="803.30" r="3.0"/><circle cx="639.87" cy="808.70" r="3.0"/><circle cx="644.18" cy="829.90" r="3.0"/><circle cx="648.48" cy="835.00" r="3.0"/><circle cx="652.79" cy="844.90" r="3.0"/><circle cx="657.10" cy="921.80" r="3.0"/></g>
<line x1="435.6" y1="758.4" x2="667.8" y2="758.4" stroke="#ff0000" stroke-width="1.887" stroke-dasharray="12.08 3.02 1.89 3.02" fill="none"/>
<line x1="435.6" y1="792.3" x2="667.8" y2="792.3" stroke="#ff0000" stroke-width="1.887" stroke-dasharray="12.08 3.02 1.89 3.02" fill="none"/>
<line x1="435.6" y1="774.4" x2="667.8" y2="774.4" stroke="#000" stroke-width="1.887" stroke-dasharray="6.98 3.02" fill="none"/>
<rect x="424.1" y="687.3" width="255.19999999999993" height="250.1500000000001" fill="none" stroke="#000" stroke-width="1.6"/>
<line x1="417.40000000000003" y1="698.2" x2="424.1" y2="698.2" stroke="#000" stroke-width="1.6"/>
<text x="411.0" y="704.90" font-family="Liberation Serif" font-size="19" text-anchor="end">0</text>
<line x1="417.40000000000003" y1="777.9" x2="424.1" y2="777.9" stroke="#000" stroke-width="1.6"/>
<text x="411.0" y="784.60" font-family="Liberation Serif" font-size="19" text-anchor="end">−20</text>
<line x1="417.40000000000003" y1="857.6" x2="424.1" y2="857.6" stroke="#000" stroke-width="1.6"/>
<text x="411.0" y="864.30" font-family="Liberation Serif" font-size="19" text-anchor="end">−40</text>
<line x1="441.7" y1="937.45" x2="441.7" y2="944.1500000000001" stroke="#000" stroke-width="1.6"/>
<text x="441.70" y="964.25" font-family="Liberation Serif" font-size="19" text-anchor="middle">0</text>
<line x1="484.78" y1="937.45" x2="484.78" y2="944.1500000000001" stroke="#000" stroke-width="1.6"/>
<text x="484.78" y="964.25" font-family="Liberation Serif" font-size="19" text-anchor="middle">10</text>
<line x1="527.86" y1="937.45" x2="527.86" y2="944.1500000000001" stroke="#000" stroke-width="1.6"/>
<text x="527.86" y="964.25" font-family="Liberation Serif" font-size="19" text-anchor="middle">20</text>
<line x1="570.94" y1="937.45" x2="570.94" y2="944.1500000000001" stroke="#000" stroke-width="1.6"/>
<text x="570.94" y="964.25" font-family="Liberation Serif" font-size="19" text-anchor="middle">30</text>
<line x1="614.02" y1="937.45" x2="614.02" y2="944.1500000000001" stroke="#000" stroke-width="1.6"/>
<text x="614.02" y="964.25" font-family="Liberation Serif" font-size="19" text-anchor="middle">40</text>
<line x1="657.1" y1="937.45" x2="657.1" y2="944.1500000000001" stroke="#000" stroke-width="1.6"/>
<text x="657.10" y="964.25" font-family="Liberation Serif" font-size="19" text-anchor="middle">50</text>
<g transform="translate(372.3,827.9) rotate(-90)"><text x="0" y="0.0" font-family="Liberation Serif" font-size="17" text-anchor="middle">% Change in cyclophosphamide toxicity</text></g>
<text x="347" y="678.7" font-family="Liberation Serif" font-size="34" font-weight="bold">E)</text>
<text x="551.6" y="988.2" font-family="Liberation Serif" font-size="19" text-anchor="middle">Patient</text>
</svg></body></html>
